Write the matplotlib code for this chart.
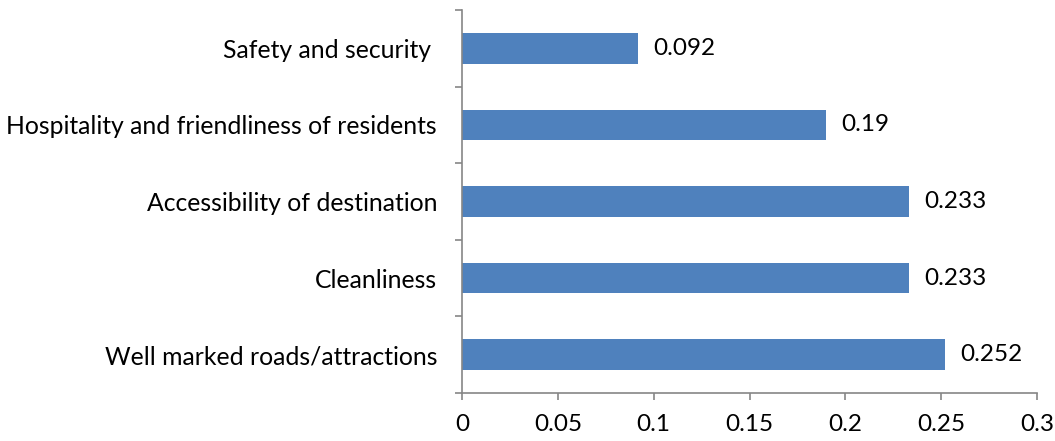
import matplotlib.pyplot as plt
import numpy as np

categories = ["Safety and security ", "Hospitality and friendliness of residents",
              "Accessibility of destination", "Cleanliness", "Well marked roads/attractions"]
values = [0.092, 0.19, 0.233, 0.233, 0.252]
xticks = [0, 0.05, 0.1, 0.15, 0.2, 0.25, 0.3]
xticklabels = ["0", "0.05", "0.1", "0.15", "0.2", "0.25", "0.3"]

plt.rcParams['font.family'] = ['Lato', 'DejaVu Sans']
plt.rcParams['font.size'] = 17.5

fig = plt.figure(figsize=(10.55, 4.41), dpi=100)
ax = fig.add_axes([0.438, 0.109, 0.545, 0.868])

y = np.arange(len(categories))
ax.barh(y, values, height=0.4, color='#4F81BD')
for yi, v in zip(y, values):
    ax.annotate(f"{v:g}", (v, yi), xytext=(11, 0), textcoords='offset points',
                va='center', ha='left', fontsize=17.5)

ax.set_xlim(0, 0.3)
ax.set_ylim(len(categories) - 0.5, -0.5)
ax.set_xticks(xticks)
ax.set_xticklabels(xticklabels)
ax.set_yticks(y)
ax.set_yticklabels(categories, fontsize=17.8)
ax.set_yticks(np.arange(-0.5, len(categories)), minor=True)

spine_col = '#868686'
for s in ['top', 'right']:
    ax.spines[s].set_visible(False)
for s in ['left', 'bottom']:
    ax.spines[s].set_color(spine_col)
    ax.spines[s].set_linewidth(1.2)
ax.tick_params(axis='y', which='major', length=0, pad=18)
ax.tick_params(axis='y', which='minor', length=5, color=spine_col, width=1.2)
ax.tick_params(axis='x', length=5, color=spine_col, width=1.2, pad=10)

fig.savefig('out.png')
